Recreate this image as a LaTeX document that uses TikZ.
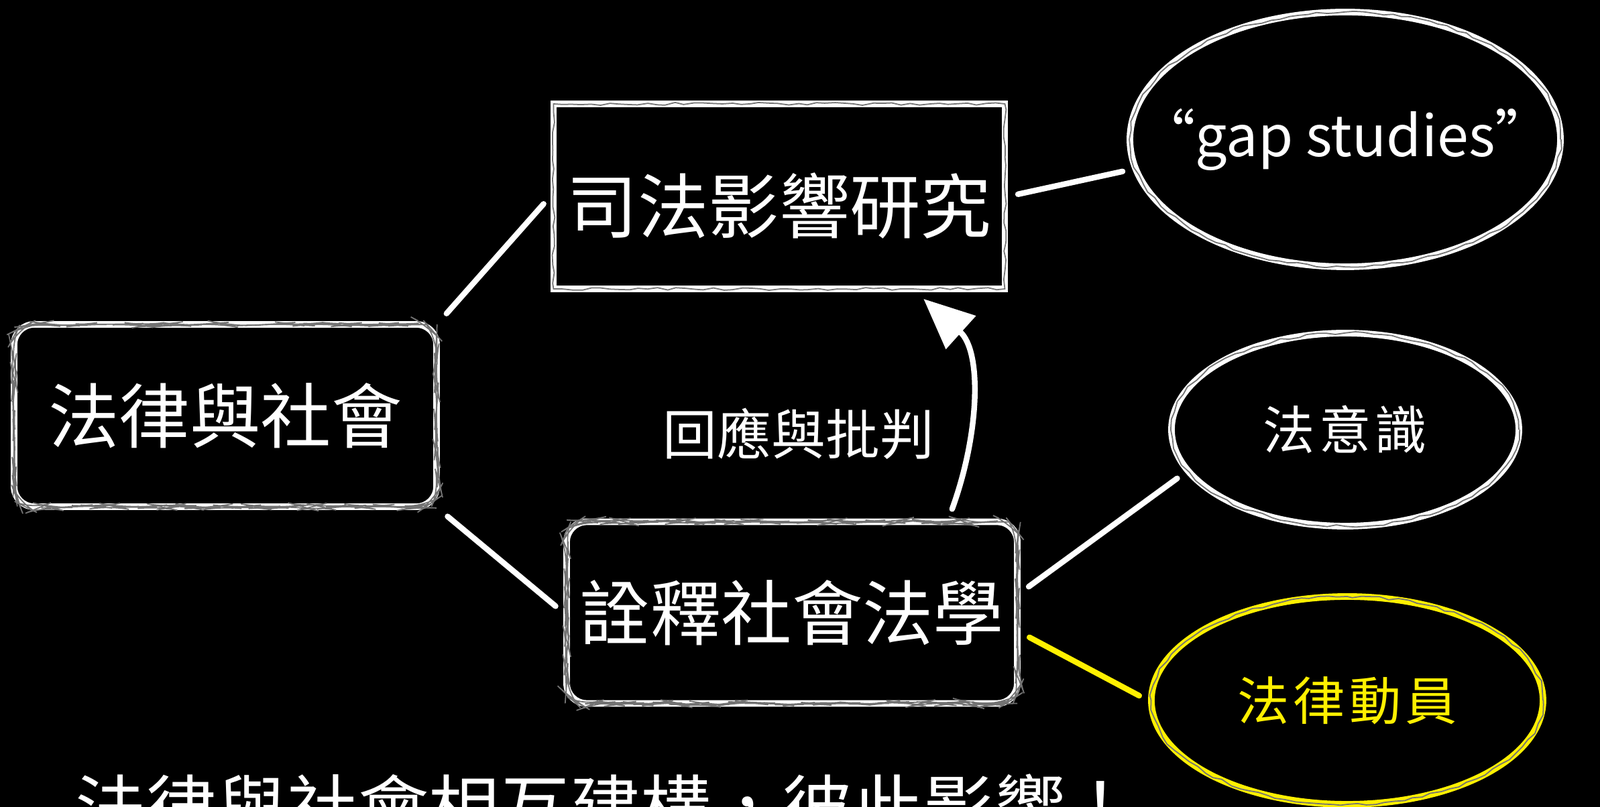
\documentclass[tikz,border=0pt]{standalone}
\usepackage{fontspec}
\setmainfont{Noto Sans CJK TC}
\newfontfamily\spaced[LetterSpace=8]{Noto Sans CJK TC}
\usetikzlibrary{arrows.meta,shapes.geometric,decorations.pathmorphing}
\definecolor{chalkyellow}{RGB}{255,240,0}

\begin{document}
\begin{tikzpicture}[
    chalk/.style={draw=#1, line width=2.8pt,
                  postaction={draw=black!55, line width=0.5pt, decorate,
                              decoration={random steps,segment length=4pt,amplitude=0.6pt}}},
    chalk/.default=white,
    box/.style={chalk, rectangle, text=white, inner sep=0pt, font=\fontsize{30}{36}\selectfont},
    oval/.style={chalk=#1, ellipse, text=#1, inner sep=0pt, font=\spaced\fontsize{22}{26}\selectfont},
    oval/.default=white,
    link/.style={draw=#1, line width=2.4pt, line cap=round, shorten <=0.15cm, shorten >=0.15cm},
    link/.default=white
]
    \fill [black] (0,0) rectangle (23.86,12.04);
    \useasboundingbox (0,0) rectangle (23.86,12.04);

    \node [box, rounded corners=0.3cm, minimum width=6.3cm, minimum height=2.72cm] (soc) at (3.36,5.84) {法律與社會};
    \node [box, minimum width=6.73cm, minimum height=2.76cm, text height=1.3cm, text depth=0.2cm] (jud) at (11.62,9.11) {司法影響研究};
    \node [box, rounded corners=0.3cm, minimum width=6.72cm, minimum height=2.71cm] (interp) at (11.81,2.90) {詮釋社會法學};

    \node [oval, minimum width=6.42cm, minimum height=3.8cm, inner xsep=-1.5cm, font=\fontsize{24}{29}\selectfont] (gap) at (20.06,9.96) {“gap studies”};
    \node [oval, minimum width=5.18cm, minimum height=2.88cm] (lc) at (20.06,5.63) {法意識};
    \node [oval=chalkyellow, minimum width=5.84cm, minimum height=3.1cm] (mob) at (20.09,1.59) {法律動員};

    \draw [link] (soc.north east) -- (jud.west);
    \draw [link] (soc.south east) -- (interp.west);
    \draw [link] (jud.east) -- (gap.188);
    \draw [link] (interp.5) -- (lc.195);
    \draw [link=chalkyellow] (interp.355) -- (mob.west);

    \draw [link, -{Triangle[length=0.75cm,width=0.65cm]}] (interp.31) to [out=70,in=-42] (jud.325);
    \node [text=white, font=\fontsize{23}{28}\selectfont] (resp) at (11.91,5.57) {回應與批判};

    \node [text=white, anchor=base west, font=\fontsize{30}{36}\selectfont] (motto) at (1.0,-0.41) {法律與社會相互建構，彼此影響！};
\end{tikzpicture}
\end{document}
